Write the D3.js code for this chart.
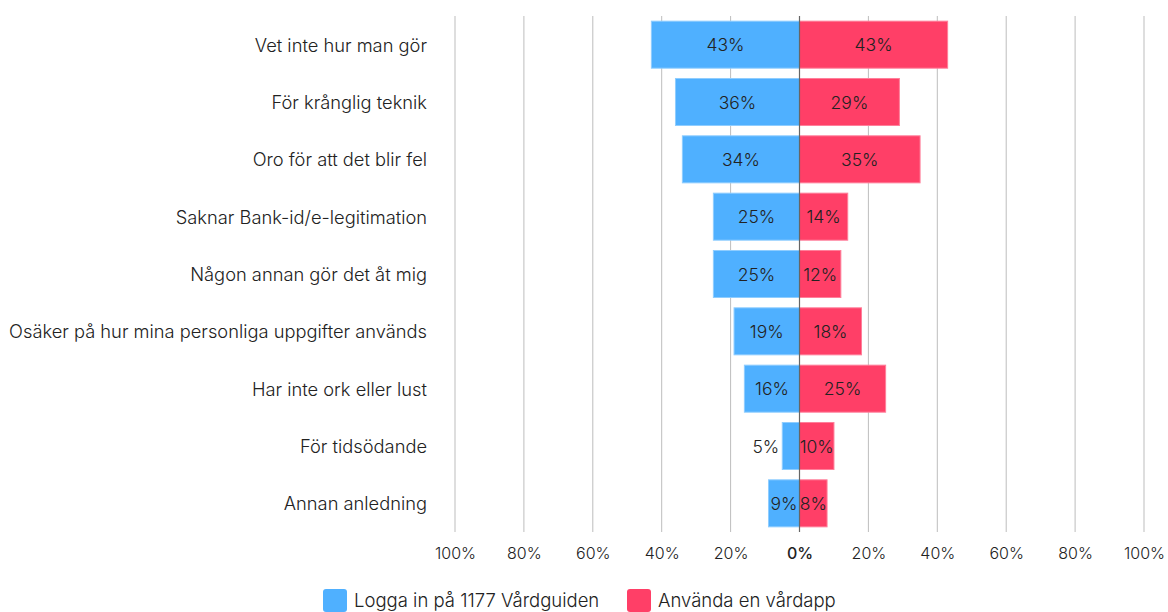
<!DOCTYPE html>
<html><head><meta charset="utf-8">
<script src="https://cdn.jsdelivr.net/npm/d3@7"></script>
<style>body{margin:0;background:#fff;} text{font-family:Inter,"Noto Sans",sans-serif;}</style>
</head><body>
<svg id="c" width="1168" height="612"></svg>
<script>
const categories = ["Vet inte hur man gör","För krånglig teknik","Oro för att det blir fel","Saknar Bank-id/e-legitimation","Någon annan gör det åt mig","Osäker på hur mina personliga uppgifter används","Har inte ork eller lust","För tidsödande","Annan anledning"];
const seriesNames = ["Logga in på 1177 Vårdguiden","Använda en vårdapp"];
const blueValues = [43,36,34,25,25,19,16,5,9];
const redValues = [43,29,35,14,12,18,25,10,8];
const tickValues = [-100,-80,-60,-40,-20,0,20,40,60,80,100];
const colors = ["#4FB0FF","#FF3F67"];

const svg = d3.select("#c");
const x = d3.scaleLinear().domain([-100,100]).range([455,1144]);
const y = d3.scaleBand().domain(categories).range([16,532]).paddingInner(0.18).paddingOuter(0.09);

svg.append("g").selectAll("line").data(tickValues.filter(d=>d!==0)).join("line")
  .attr("x1",d=>x(d)).attr("x2",d=>x(d)).attr("y1",16).attr("y2",532)
  .attr("stroke","#bdbdbd").attr("stroke-width",1);

const g = svg.append("g");
categories.forEach((c,i)=>{
  const b = blueValues[i], r = redValues[i];
  g.append("rect").attr("x",x(-b)).attr("width",x(0)-x(-b)).attr("y",y(c)).attr("height",y.bandwidth())
    .attr("fill",colors[0]).attr("stroke","#8fcdff").attr("stroke-width",1);
  g.append("rect").attr("x",x(0)).attr("width",x(r)-x(0)).attr("y",y(c)).attr("height",y.bandwidth())
    .attr("fill",colors[1]).attr("stroke","#ff7f9a").attr("stroke-width",1);
});
svg.append("line").attr("x1",x(0)).attr("x2",x(0)).attr("y1",16).attr("y2",532)
  .attr("stroke","#666").attr("stroke-width",1.2);

categories.forEach((c,i)=>{
  const b = blueValues[i], r = redValues[i];
  const cy = y(c)+y.bandwidth()/2;
  const bw = x(0)-x(-b);
  const outside = bw < 28;
  g.append("text").attr("x", outside ? x(-b)-3 : (x(-b)+x(0))/2).attr("y",cy)
    .attr("text-anchor", outside ? "end" : "middle").attr("dominant-baseline","central")
    .attr("font-size",17.5).attr("font-weight",300).attr("fill","#222").text(b+"%");
  g.append("text").attr("x",(x(0)+x(r))/2).attr("y",cy)
    .attr("text-anchor","middle").attr("dominant-baseline","central")
    .attr("font-size",17.5).attr("font-weight",300).attr("fill","#222").text(r+"%");
});

svg.append("g").selectAll("text").data(categories).join("text")
  .attr("x",427).attr("y",d=>y(d)+y.bandwidth()/2).attr("text-anchor","end")
  .attr("dominant-baseline","central").attr("font-size",18.3).attr("font-weight",300).attr("fill","#222").text(d=>d);

const ax = svg.append("g").attr("transform","translate(0,532)")
  .call(d3.axisBottom(x).tickValues(tickValues).tickSize(0).tickPadding(16).tickFormat(d=>Math.abs(d)+"%"));
ax.select(".domain").remove();
ax.selectAll("text").attr("font-size",16).attr("fill","#222").style("font-family","Inter,sans-serif")
  .attr("font-weight",d=>d===0?500:300);

const leg = svg.append("g");
const legX = [323,627];
seriesNames.forEach((s,i)=>{
  leg.append("rect").attr("x",legX[i]).attr("y",589).attr("width",24).attr("height",23).attr("rx",3).attr("fill",colors[i]);
  leg.append("text").attr("x",legX[i]+31).attr("y",599.5).attr("dominant-baseline","central")
    .attr("font-size",18.5).attr("font-weight",300).attr("fill","#222").text(s);
});
</script>
</body></html>
